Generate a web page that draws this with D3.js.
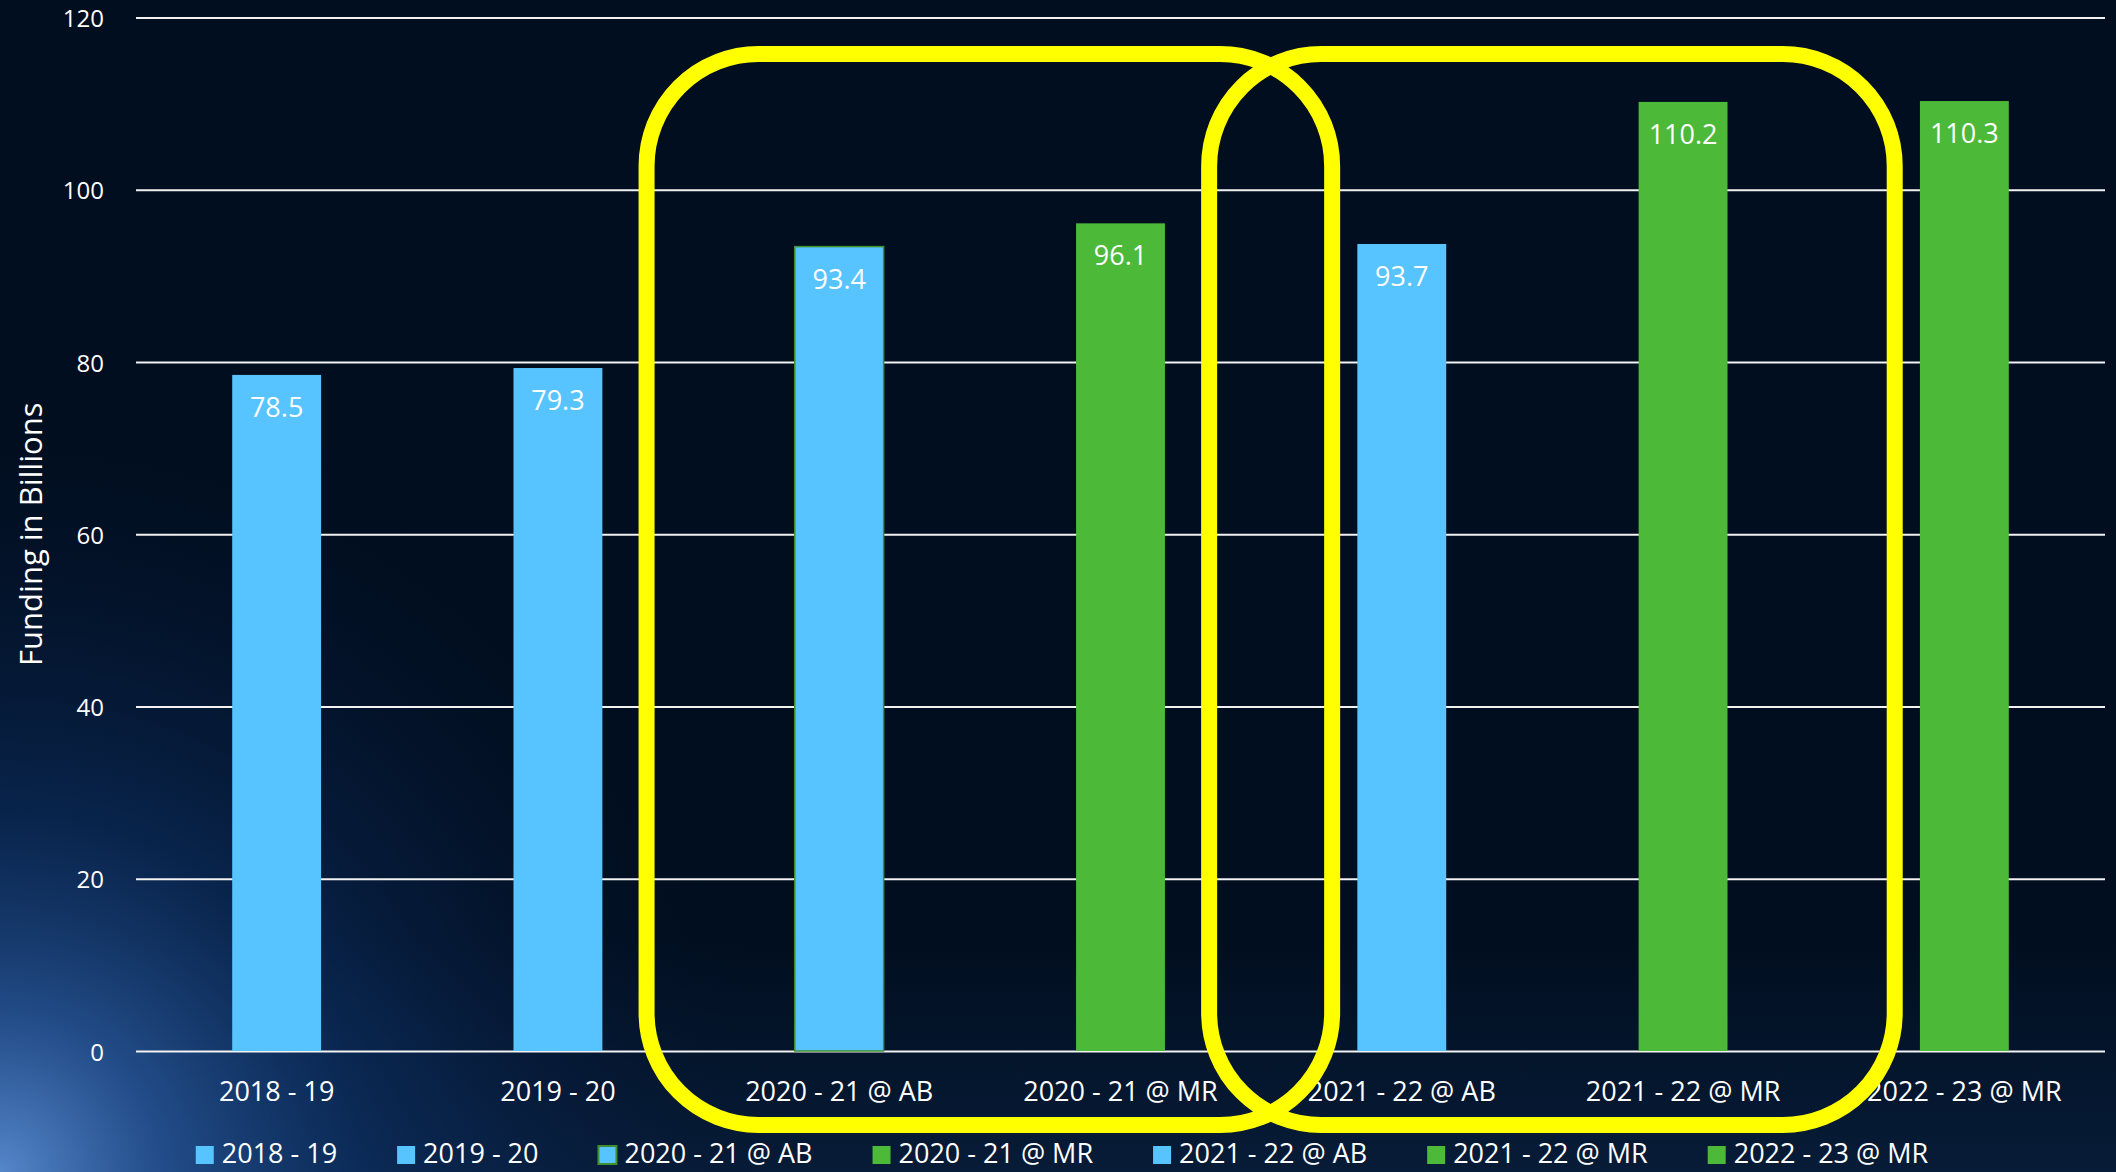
<!DOCTYPE html>
<html>
<head>
<meta charset="utf-8">
<script src="https://cdn.jsdelivr.net/npm/d3@7"></script>
<style>
  html, body { margin: 0; padding: 0; background: #010e1f; }
  svg { display: block; }
</style>
</head>
<body>
<div id="chart"></div>
<script>
// chart data
const categories = ["2018 - 19", "2019 - 20", "2020 - 21 @ AB", "2020 - 21 @ MR", "2021 - 22 @ AB", "2021 - 22 @ MR", "2022 - 23 @ MR"]
const values = [78.5, 79.3, 93.4, 96.1, 93.7, 110.2, 110.3]
const kinds = ["budget", "budget", "budget", "revised", "budget", "revised", "revised"]
const yTicks = [0, 20, 40, 60, 80, 100, 120]
const highlightGroups = [["2020 - 21 @ AB", "2020 - 21 @ MR"], ["2021 - 22 @ AB", "2021 - 22 @ MR"]]

const data = categories.map((c, i) => ({ name: c, value: values[i], kind: kinds[i] }))

width = 2116
height = 1172
const margin = { top: 17.5, right: 11, bottom: 121, left: 136 }
const font = "'Open Sans', sans-serif"
const outer = 0.342

const color = d3.scaleOrdinal()
    .domain(["budget", "revised"])
    .range(["#57c4ff", "#4cb938"])

const svg = d3.select("#chart")
    .append("svg")
    .attr("width", width)
    .attr("height", height)
    .style("font-family", font)

// background with the blue glow in the lower left
const defs = svg.append("defs")
const glow = defs.append("radialGradient")
    .attr("id", "glow")
    .attr("gradientUnits", "userSpaceOnUse")
    .attr("cx", 0).attr("cy", height).attr("r", 800)
glow.append("stop").attr("offset", 0).attr("stop-color", "#5a8cd2").attr("stop-opacity", 0.95)
glow.append("stop").attr("offset", 0.2).attr("stop-color", "#2c5ea6").attr("stop-opacity", 0.75)
glow.append("stop").attr("offset", 0.45).attr("stop-color", "#103a78").attr("stop-opacity", 0.5)
glow.append("stop").attr("offset", 0.75).attr("stop-color", "#0a2350").attr("stop-opacity", 0.2)
glow.append("stop").attr("offset", 1).attr("stop-color", "#010e1f").attr("stop-opacity", 0)

const floor = defs.append("linearGradient")
    .attr("id", "floor").attr("x1", 0).attr("y1", 0).attr("x2", 0).attr("y2", 1)
floor.append("stop").attr("offset", 0.8).attr("stop-color", "#0b2548").attr("stop-opacity", 0)
floor.append("stop").attr("offset", 1).attr("stop-color", "#0b2548").attr("stop-opacity", 0.6)

svg.append("rect").attr("width", width).attr("height", height).attr("fill", "#010e1f")
svg.append("rect").attr("width", width).attr("height", height).attr("fill", "url(#floor)")
svg.append("rect").attr("width", width).attr("height", height).attr("fill", "url(#glow)")

const x = d3.scaleBand()
    .domain(categories)
    .range([margin.left, width - margin.right])
    .paddingInner(0.684)
    .paddingOuter(outer)

const y = d3.scaleLinear()
    .domain([0, 120])
    .range([height - margin.bottom, margin.top])

// gridlines + y tick labels
const yAxis = svg.append("g")
    .attr("transform", `translate(${margin.left},0)`)
    .call(d3.axisLeft(y)
        .tickValues(yTicks)
        .tickSize(-(width - margin.left - margin.right))
        .tickPadding(32))
yAxis.select(".domain").remove()
yAxis.selectAll(".tick line")
    .attr("stroke", "#f2f2f2")
    .attr("stroke-width", 2)
yAxis.selectAll(".tick text")
    .attr("fill", "#ffffff")
    .attr("dy", "0.38em")
    .style("font", `24px ${font}`)

svg.append("text")
    .attr("transform", `translate(42,${(y(0) + y(120)) / 2}) rotate(-90)`)
    .attr("text-anchor", "middle")
    .attr("fill", "#ffffff")
    .style("font", `31px ${font}`)
    .text("Funding in Billions")

// x axis labels
const xAxis = svg.append("g")
    .attr("transform", `translate(0,${y(0)})`)
    .call(d3.axisBottom(x).tickSize(0))
xAxis.select(".domain").remove()
xAxis.selectAll(".tick text")
    .attr("y", 50)
    .attr("dy", 0)
    .attr("fill", "#ffffff")
    .style("font", `27px ${font}`)

// bars
svg.append("g")
    .selectAll("rect")
    .data(data)
    .enter().append("rect")
    .attr("x", d => x(d.name))
    .attr("y", d => y(d.value))
    .attr("width", x.bandwidth())
    .attr("height", d => y(0) - y(d.value))
    .attr("fill", d => color(d.kind))
    .attr("stroke", d => d.name === "2020 - 21 @ AB" ? "#3f8f2c" : "none")
    .attr("stroke-width", 1.5)

// value labels
svg.append("g")
    .selectAll("text")
    .data(data)
    .enter().append("text")
    .attr("x", d => x(d.name) + x.bandwidth() / 2)
    .attr("y", d => y(d.value) + 42)
    .attr("text-anchor", "middle")
    .attr("fill", "#ffffff")
    .style("font", `27px ${font}`)
    .text(d => d3.format(".1f")(d.value))

// yellow highlight outlines around the AB / MR pairs
const bandStart = name => x(name) - x.step() * outer
const bandEnd = name => x(name) + x.bandwidth() + x.step() * outer
svg.append("g")
    .selectAll("rect")
    .data(highlightGroups)
    .enter().append("rect")
    .attr("x", g => bandStart(g[0]) - 52)
    .attr("y", y(120) + 36.5)
    .attr("width", g => bandEnd(g[1]) + 71 - (bandStart(g[0]) - 52))
    .attr("height", y(0) + 74 - (y(120) + 36.5))
    .attr("rx", 112)
    .attr("ry", 112)
    .attr("fill", "none")
    .attr("stroke", "#ffff00")
    .attr("stroke-width", 16)

// legend
const legend = svg.append("g")
const items = legend.selectAll("g")
    .data(data)
    .enter().append("g")
items.append("rect")
    .attr("width", 18)
    .attr("height", 18)
    .attr("y", 1146)
    .attr("fill", d => color(d.kind))
    .attr("stroke", d => d.name === "2020 - 21 @ AB" ? "#3f8f2c" : "none")
    .attr("stroke-width", 2)
items.append("text")
    .attr("x", 26)
    .attr("y", 1163)
    .attr("fill", "#ffffff")
    .style("font", `27px ${font}`)
    .text(d => d.name)

let offset = 0
const gap = 60
items.each(function() {
    const w = d3.select(this).select("text").node().getComputedTextLength()
    d3.select(this).attr("transform", `translate(${offset},0)`)
    offset += 26 + w + gap
})
const total = offset - gap
legend.attr("transform", `translate(${1062 - total / 2},0)`)
</script>
</body>
</html>
